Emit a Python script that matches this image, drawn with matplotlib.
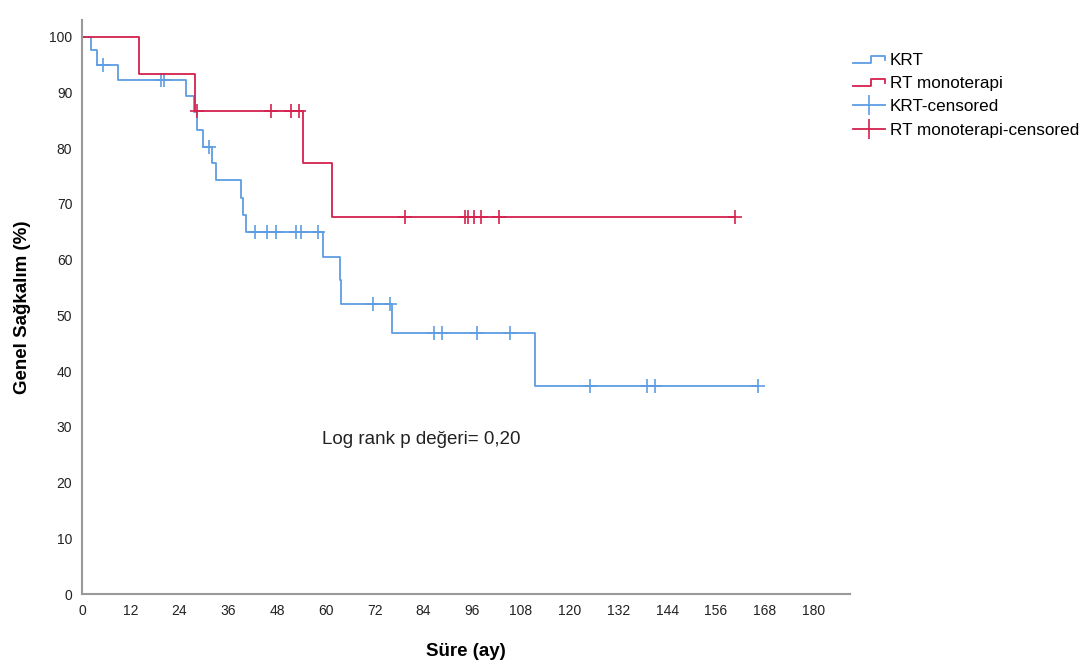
import numpy as np
import matplotlib
matplotlib.use('Agg')
import matplotlib.pyplot as plt
from matplotlib.lines import Line2D
from matplotlib.legend_handler import HandlerBase

plt.rcParams['font.family'] = ['Liberation Sans', 'DejaVu Sans']

# Kaplan-Meier verileri (ay, %)
krt_t = [0, 2.2, 3.6, 8.9, 25.6, 27.5, 28.4, 29.8, 31.9, 32.9, 39.1, 39.6, 40.3,
         59.3, 63.6, 63.8, 76.3, 111.6]
krt_s = [100, 97.7, 95.0, 92.3, 89.3, 86.5, 83.3, 80.3, 77.4, 74.3, 71.1, 68.0, 64.9,
         60.5, 56.4, 52.0, 46.8, 37.4]
krt_cens = [5.1, 19.5, 20.3, 31.3, 42.6, 45.5, 47.8, 52.7, 53.9, 58.2, 71.6, 75.9,
            86.7, 88.6, 97.2, 105.4, 124.9, 139.0, 141.1, 166.4]

rt_t = [0, 14.0, 27.7, 54.3, 61.5]
rt_s = [100, 93.3, 86.7, 77.3, 67.6]
rt_cens = [28.4, 46.6, 51.5, 53.4, 79.4, 94.3, 95.1, 96.4, 98.3, 102.5, 160.8]

blue = '#5e9de3'
red = '#d6214e'


def surv_at(t_ev, s_ev, t):
    idx = np.searchsorted(t_ev, t, side='right') - 1
    return np.array(s_ev)[idx]


class StepHandler(HandlerBase):
    def create_artists(self, legend, orig_handle, xdescent, ydescent,
                       width, height, fontsize, trans):
        x0, w = -xdescent, width
        y0, h = -ydescent, height
        xs = [x0, x0 + w * 0.55, x0 + w * 0.55, x0 + w, x0 + w]
        ys = [y0 + h * 0.15, y0 + h * 0.15, y0 + h * 0.75, y0 + h * 0.75, y0 + h * 0.4]
        ln = Line2D(xs, ys, color=orig_handle.get_color(), lw=1.3, transform=trans)
        return [ln]


fig = plt.figure(figsize=(10.9, 6.66), dpi=100)
ax = fig.add_axes([82 / 1090, 1 - 594 / 666, (850 - 82) / 1090, (594 - 20) / 666])

for t_ev, s_ev, cens, col in [(krt_t, krt_s, krt_cens, blue), (rt_t, rt_s, rt_cens, red)]:
    tt = list(t_ev) + [max(cens)]
    ss = list(s_ev) + [s_ev[-1]]
    ax.step(tt, ss, where='post', color=col, lw=1.3)
    ax.plot(cens, surv_at(t_ev, s_ev, cens), ls='none', marker='+', ms=10,
            mew=1.2, color=col)

ax.text(59, 27.8, 'Log rank p değeri= 0,20', fontsize=13.5, va='center', ha='left',
        color='#222222')

ax.set_xlim(0, 189)
ax.set_ylim(0, 103)
ax.set_xticks(np.arange(0, 181, 12))
ax.set_yticks(np.arange(0, 101, 10))
ax.tick_params(length=0, labelsize=10, colors='#222222', pad=7)
for sp in ['top', 'right']:
    ax.spines[sp].set_visible(False)
for sp in ['left', 'bottom']:
    ax.spines[sp].set_color('#999999')
    ax.spines[sp].set_linewidth(1.5)

ax.set_xlabel('Süre (ay)', fontsize=13.5, fontweight='bold', labelpad=18)
ax.set_ylabel('Genel Sağkalım (%)', fontsize=13.5, fontweight='bold', labelpad=13)

h1 = Line2D([], [], color=blue)
h2 = Line2D([], [], color=red)
h3 = Line2D([], [], color=blue, marker='|', ms=14, mew=1.2, lw=1.3)
h4 = Line2D([], [], color=red, marker='|', ms=14, mew=1.2, lw=1.3)
fig.legend([h1, h2, h3, h4], ['KRT', 'RT monoterapi', 'KRT-censored', 'RT monoterapi-censored'],
           loc='upper left', bbox_to_anchor=(853 / 1090, 1 - 53 / 666), frameon=False,
           fontsize=12.3, handlelength=1.9, handletextpad=0.25, labelspacing=0.48,
           borderaxespad=0, borderpad=0,
           handler_map={h1: StepHandler(), h2: StepHandler()})

fig.savefig('out.png', dpi=100)
